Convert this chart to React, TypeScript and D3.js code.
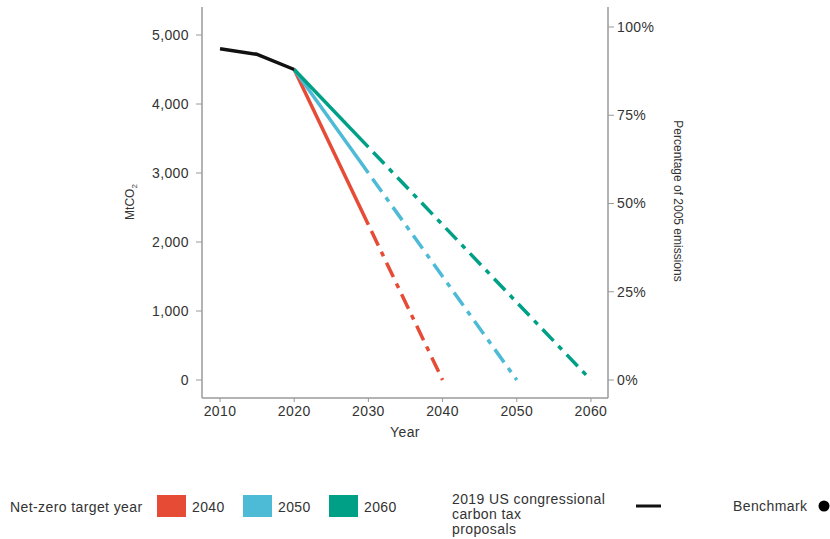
import React from "react";
import * as d3 from "d3";

// Historical emissions (MtCO2) under 2019 congressional carbon tax proposals
const histYears = [2010, 2015, 2020];
const histValues = [4800, 4720, 4500];

// Net-zero pathways: solid to 2030, dash-dot afterwards
const targetYears = ["2040", "2050", "2060"];
const targetColors = ["#E64B35", "#4DBBD5", "#00A087"];
const pathYears = [
  [2020, 2030, 2040],
  [2020, 2030, 2050],
  [2020, 2030, 2060],
];
const pathValues = [
  [4500, 2250, 0],
  [4500, 3000, 0],
  [4500, 3375, 0],
];

const xTicks = [2010, 2020, 2030, 2040, 2050, 2060];
const yTicks = [0, 1000, 2000, 3000, 4000, 5000];
const pctTicks = [0, 0.25, 0.5, 0.75, 1];

const W = 830;
const H = 539;
const FONT = "'Liberation Sans', Arial, sans-serif";
const TEXT = "#333";
const AXIS = "#9a9a9a";
const FS = 14;
const LS = 0.4;

export default function App() {
  const x = d3.scaleLinear().domain([2007.57, 2062.3]).range([202, 608]);
  const y = d3.scaleLinear().domain([0, 5000]).range([380, 35]);
  const yPct = d3.scaleLinear().domain([0, 1]).range([380, 27]);
  const top = 7;
  const bottom = 398;

  const line = d3
    .line<[number, number]>()
    .x((d) => x(d[0]))
    .y((d) => y(d[1]));

  const hist = histYears.map((yr, i) => [yr, histValues[i]] as [number, number]);

  return (
    <div style={{ position: "fixed", left: 0, top: 0 }}>
      <svg
        width={W}
        height={H}
        style={{ display: "block", background: "#fff" }}
        fontFamily={FONT}
        fontSize={FS}
        letterSpacing={LS}
      >
        {/* axes frame */}
        <line x1={x.range()[0]} x2={x.range()[0]} y1={top} y2={bottom} stroke={AXIS} strokeWidth={1.5} />
        <line x1={x.range()[1]} x2={x.range()[1]} y1={top} y2={bottom} stroke={AXIS} strokeWidth={1.5} />
        <line x1={x.range()[0]} x2={x.range()[1]} y1={bottom} y2={bottom} stroke={AXIS} strokeWidth={1.5} />

        {/* left axis */}
        {yTicks.map((t) => (
          <g key={"y" + t}>
            <line x1={196} x2={202} y1={y(t)} y2={y(t)} stroke={AXIS} strokeWidth={1} />
            <text x={189} y={y(t)} dy="0.35em" textAnchor="end" fill={TEXT}>
              {d3.format(",")(t)}
            </text>
          </g>
        ))}

        {/* right axis */}
        {pctTicks.map((t) => (
          <g key={"p" + t}>
            <line x1={608} x2={614} y1={yPct(t)} y2={yPct(t)} stroke={AXIS} strokeWidth={1} />
            <text x={617} y={yPct(t)} dy="0.35em" textAnchor="start" fill={TEXT}>
              {d3.format(".0%")(t)}
            </text>
          </g>
        ))}

        {/* bottom axis */}
        {xTicks.map((t) => (
          <g key={"x" + t}>
            <line x1={x(t)} x2={x(t)} y1={bottom} y2={bottom + 4} stroke={AXIS} strokeWidth={1} />
            <text x={x(t)} y={416} textAnchor="middle" fill={TEXT}>
              {t}
            </text>
          </g>
        ))}

        {/* axis titles */}
        <text x={405} y={437} textAnchor="middle" fill={TEXT}>
          Year
        </text>
        <text transform="translate(134,202) rotate(-90)" textAnchor="middle" fontSize={12} letterSpacing={0} fill={TEXT}>
          MtCO<tspan fontSize={8} dy={3}>2</tspan>
        </text>
        <text transform="translate(674,201) rotate(90)" textAnchor="middle" fontSize={12} letterSpacing={0} fill={TEXT}>
          Percentage of 2005 emissions
        </text>

        {/* net-zero pathways */}
        {pathYears.map((yrs, i) => {
          const pts = yrs.map((yr, j) => [yr, pathValues[i][j]] as [number, number]);
          return (
            <g key={"path" + i}>
              <path d={line(pts.slice(0, 2)) || ""} fill="none" stroke={targetColors[i]} strokeWidth={3.5} />
              <path
                d={line(pts.slice(1)) || ""}
                fill="none"
                stroke={targetColors[i]}
                strokeWidth={3.5}
                strokeDasharray="16,7,5,7"
                strokeDashoffset={-7}
              />
            </g>
          );
        })}

        {/* historical benchmark */}
        <path d={line(hist) || ""} fill="none" stroke="#111" strokeWidth={3.5} strokeLinejoin="round" />

        {/* legend */}
        <text x={10} y={512} fill={TEXT}>
          Net-zero target year
        </text>
        {targetYears.map((t, i) => (
          <g key={"leg" + t} transform={`translate(${157 + i * 86},495)`}>
            <rect width={29} height={22} fill={targetColors[i]} />
            <text x={35} y={17} fill={TEXT}>
              {t}
            </text>
          </g>
        ))}
        <text x={452} y={504} fill={TEXT}>
          2019 US congressional
        </text>
        <text x={452} y={519} fill={TEXT}>
          carbon tax
        </text>
        <text x={452} y={534} fill={TEXT}>
          proposals
        </text>
        <line x1={636} x2={661} y1={506} y2={506} stroke="#111" strokeWidth={3} />
        <text x={733} y={511} fill={TEXT}>
          Benchmark
        </text>
        <circle cx={824} cy={506} r={5.5} fill="#000" />
      </svg>
    </div>
  );
}
